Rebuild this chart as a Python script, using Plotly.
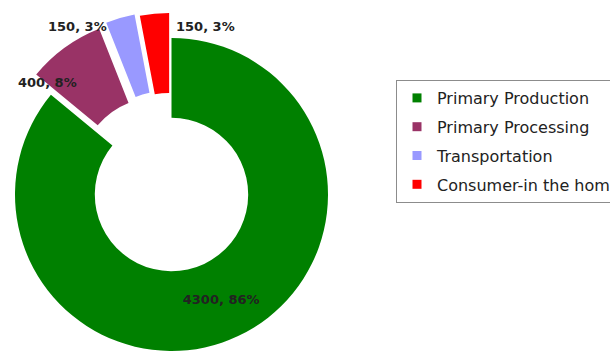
import math
import plotly.graph_objects as go

# Food-chain stages and their amounts
categories = ["Primary Production", "Primary Processing", "Transportation", "Consumer-in the home"]
values = [4300, 400, 150, 150]

# Styling
colors = ["#008000", "#993366", "#9999FF", "#FF0000"]
explode = [0.0, 0.16, 0.175, 0.16]          # radial offset of each slice, fraction of radius
label_pos = [None, (47, 83), (77, 27), (205, 27)]  # text centres (px) for the small slices

W, H = 610, 351
R = 156.5              # outer radius in px
CX, CY = 171.5, 194.5  # ring centre in px (from top-left)
HOLE = 0.49
LABEL_FONT = dict(family="DejaVu Sans", size=13, color="#222222")

total = sum(values)
value_text = [f"{v}, {round(100 * v / total)}%" for v in values]

# mid-angle of each slice, clockwise from 12 o'clock
mid_angles = []
acc = 0
for v in values:
    mid_angles.append(2 * math.pi * (acc + v / 2) / total)
    acc += v

fig = go.Figure()

# one ring per slice, so each exploded slice can sit on its own shifted centre
for k, (cat, col) in enumerate(zip(categories, colors)):
    d = explode[k] * R
    cx = CX + d * math.sin(mid_angles[k])
    cy = CY - d * math.cos(mid_angles[k])
    dom_x = [max(0.0, (cx - R) / W), min(1.0, (cx + R) / W)]
    dom_y = [max(0.0, (H - cy - R) / H), min(1.0, (H - cy + R) / H)]
    slice_colors = [c if j == k else "rgba(0,0,0,0)" for j, c in enumerate(colors)]
    slice_text = [f"<b>{value_text[j]}</b>" if (j == k and label_pos[j] is None) else ""
                  for j in range(len(values))]
    fig.add_trace(go.Pie(
        labels=categories,
        values=values,
        sort=False,
        direction="clockwise",
        rotation=0,
        hole=HOLE,
        domain=dict(x=dom_x, y=dom_y),
        marker=dict(colors=slice_colors, line=dict(width=0)),
        text=slice_text,
        textinfo="text",
        textposition="inside",
        insidetextorientation="horizontal",
        insidetextfont=LABEL_FONT,
        hoverinfo="skip",
        showlegend=False,
    ))

# legend entries
for cat, col in zip(categories, colors):
    fig.add_trace(go.Scatter(
        x=[None], y=[None], mode="markers", name=cat, legendgroup=cat,
        marker=dict(symbol="square", size=9, color=col),
        hoverinfo="skip", showlegend=True,
    ))

# value labels for the small exploded slices
for k, pos in enumerate(label_pos):
    if pos is None:
        continue
    fig.add_annotation(
        x=pos[0] / W, y=1 - pos[1] / H, xref="paper", yref="paper",
        text=f"<b>{value_text[k]}</b>", showarrow=False,
        xanchor="center", yanchor="middle", font=LABEL_FONT,
    )

fig.update_layout(
    width=W, height=H,
    margin=dict(l=0, r=0, t=0, b=0, autoexpand=False),
    paper_bgcolor="white", plot_bgcolor="white",
    xaxis=dict(visible=False), yaxis=dict(visible=False),
    legend=dict(
        x=396 / W, y=1 - 80 / H, xanchor="left", yanchor="top",
        bgcolor="white", bordercolor="#8c8c8c", borderwidth=1,
        font=dict(family="DejaVu Sans", size=16, color="#222222"),
        traceorder="grouped", tracegroupgap=5,
    ),
    uniformtext=dict(minsize=13, mode="show"),
)

fig.write_html("out.html")
